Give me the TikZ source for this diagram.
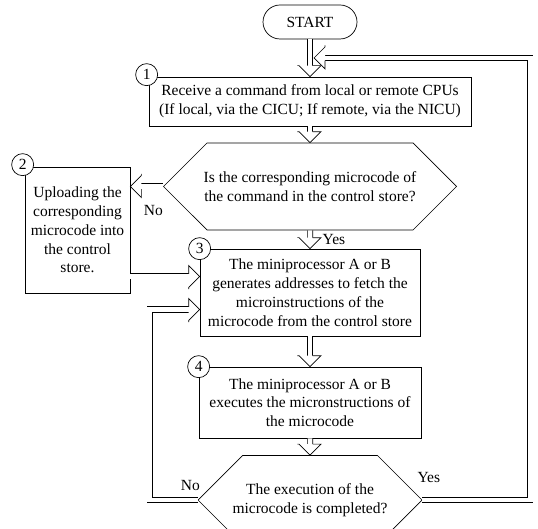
\documentclass[tikz,border=0pt]{standalone}
\usepackage{fontspec}
\setmainfont{Liberation Serif}
\usetikzlibrary{arrows.meta, positioning, shapes.misc, calc}

\tikzset{
	fathead/.pic={
		\draw[line width=0.7pt, fill=white] (-11pt,2.65pt) -- (-11pt,11pt) -- (0pt,0pt) -- (-11pt,-11pt) -- (-11pt,-2.65pt);
	}
}

\begin{document}
\begin{tikzpicture}[
		x=1pt, y=1pt,
		every node/.style={font=\fontsize{15.5pt}{18.8pt}\selectfont},
		box/.style={draw, rectangle, line width=0.7pt, align=center, inner sep=1pt},
		decision/.style={draw, chamfered rectangle, line width=0.7pt, align=center, inner sep=1pt},
		startstop/.style={draw, rectangle, rounded corners=17pt, minimum width=94pt, minimum height=34pt, line width=0.7pt},
		num/.style={draw, circle, fill=white, inner sep=0pt, minimum size=22pt, line width=0.7pt},
		pipe/.style={draw, double, double distance=4.6pt, line width=0.7pt},
		arrow/.style={pipe, shorten >=10pt},
		atend/.style={pos=1, sloped, allow upside down}
		]
		\useasboundingbox (0,0) rectangle (538,-529);
		
		% Nodes
		\node[startstop] (start) at (310,-22) {START};
		\node[box, minimum width=322pt, minimum height=49pt] (recv) [node distance=79.5pt, below of=start] {Receive a command from local or remote CPUs\\(If local, via the CICU; If remote, via the NICU)};
		\node[decision, minimum width=293pt, minimum height=55pt, chamfered rectangle xsep=69pt, chamfered rectangle ysep=27.5pt] (dec1) [node distance=85pt, below of=recv] {Is the corresponding microcode of\\the command in the control store?};
		\node[box, minimum width=105pt, minimum height=126pt] (upload) at (77.5,-230) {Uploading the\\corresponding\\microcode into\\the control\\store.};
		\node[box, minimum width=220pt, minimum height=87pt] (fetch) [node distance=106pt, below of=dec1] {The miniprocessor A or B\\generates addresses to fetch the\\microinstructions of the\\microcode from the control store};
		\node[box, minimum width=222pt, minimum height=71pt] (exec) [node distance=110pt, below of=fetch] {The miniprocessor A or B\\executes the micronstructions of\\the microcode};
		\node[decision, minimum width=224pt, minimum height=54pt, chamfered rectangle xsep=55pt, chamfered rectangle ysep=27pt] (done) [node distance=97.5pt, below of=exec] {The execution of the\\microcode is completed?};
		
		% Step numbers
		\node[num] (n1) at ([xshift=-2pt, yshift=2pt]recv.north west) {1};
		\node[num] (n2) at ([xshift=-2pt, yshift=2pt]upload.north west) {2};
		\node[num] (n3) at (fetch.north west) {3};
		\node[num] (n4) at (exec.north west) {4};
		
		% Arrows
		\coordinate (join) at ($(start.south)!0.5!(recv.north)+(4pt,0)$);
		\draw[arrow] (start) -- (recv) pic[atend]{fathead};
		\draw[arrow] (recv) -- (dec1) pic[atend]{fathead};
		\draw[arrow] (dec1.west) -- node[below=15pt, pos=0.3]{No} (dec1.west -| upload.east) pic[atend]{fathead};
		\draw[arrow] (dec1) -- node[right=9pt]{Yes} (fetch) pic[atend]{fathead};
		\draw[arrow] ([yshift=16pt]fetch.west -| upload.east) -- ([yshift=16pt]fetch.west) pic[atend]{fathead};
		\draw[arrow] (fetch) -- (exec) pic[atend]{fathead};
		\draw[arrow] (exec) -- (done) pic[atend]{fathead};
		\draw[arrow] (done.west) -- node[above=6pt, pos=0.15]{No} ++(-48pt,0) |- ([yshift=-17pt]fetch.west) pic[atend]{fathead};
		\draw[arrow] (done.east) -- node[above=14pt, pos=0.06]{Yes} ++(108pt,0) |- (join) pic[atend]{fathead};
		
	\end{tikzpicture}
\end{document}
